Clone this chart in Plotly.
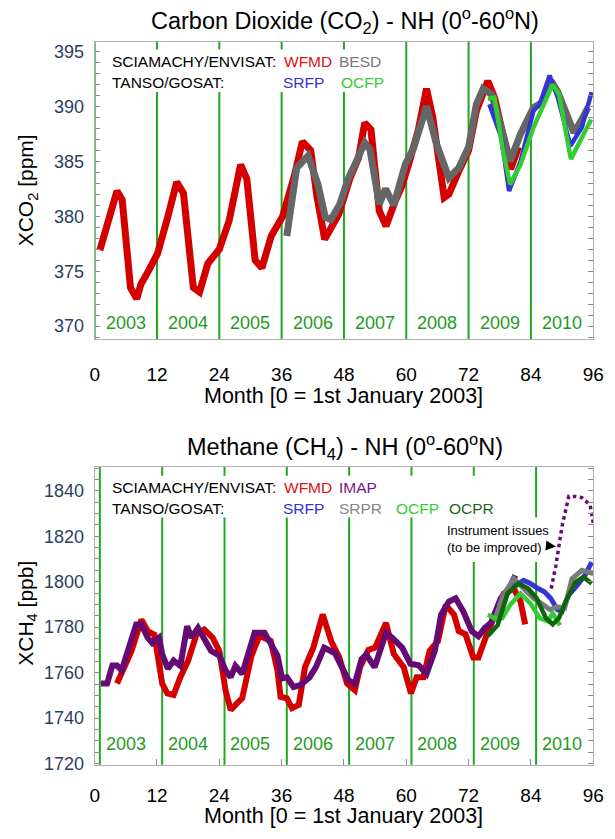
import plotly.graph_objects as go

# ---------------- data: CO2 (ppm) ----------------
co2_wfmd_month = [1.0, 4.3, 5.3, 6.9, 8.1, 8.9, 10.1, 12.1, 14.0, 15.8, 17.1, 19.0, 20.2, 21.8, 24.0, 25.9,
                  28.1, 29.3, 30.9, 32.2, 34.0, 36.2, 38.4, 40.0, 41.6, 42.8, 44.3, 47.0, 49.2, 50.8, 52.0,
                  53.2, 54.8, 56.1, 57.9, 59.2, 60.8, 62.3, 63.9, 65.1, 67.3, 68.2, 70.1, 72.0, 73.5, 75.7,
                  77.0, 78.8, 80.1, 81.6]
co2_wfmd = [376.9, 382.3, 381.5, 373.5, 372.5, 373.8, 374.8, 376.6, 379.8, 383.1, 382.1, 373.5, 373.1, 375.7,
            377.0, 379.6, 384.7, 383.4, 376.0, 375.3, 378.2, 380.0, 383.6, 386.8, 386.0, 381.8, 377.9, 380.2,
            383.5, 385.3, 388.5, 387.9, 380.5, 379.1, 381.4, 382.8, 385.3, 387.8, 391.6, 389.0, 381.7, 382.0,
            384.1, 386.0, 389.6, 392.3, 390.8, 386.6, 384.3, 386.3]

co2_besd_month = [37.0, 38.9, 41.1, 43.0, 44.4, 45.5, 47.2, 48.9, 50.4, 52.0, 53.0, 54.8, 56.0, 57.6, 59.8,
                  61.4, 63.9, 65.8, 68.2, 70.1, 72.0, 73.5, 74.8, 76.4, 78.3, 80.0, 82.0, 84.5, 86.0, 87.9,
                  89.1, 90.7, 92.3, 93.8, 95.0]
co2_besd = [378.2, 384.4, 385.5, 382.9, 379.9, 379.7, 381.1, 383.5, 385.0, 386.7, 386.1, 381.1, 382.5, 381.0,
            384.7, 386.2, 390.0, 386.6, 383.5, 384.4, 386.3, 390.2, 391.6, 391.1, 388.1, 385.0, 387.5, 389.9,
            390.3, 392.3, 391.4, 389.3, 387.6, 388.8, 389.9]

co2_srfp_month = [76.0, 78.3, 79.8, 82.0, 84.5, 85.7, 87.6, 89.2, 91.6, 93.8, 95.7]
co2_srfp = [390.2, 387.2, 382.3, 385.0, 389.6, 390.2, 392.8, 390.8, 386.4, 388.1, 391.3]

co2_ocfp_month = [75.7, 77.0, 78.6, 80.0, 82.0, 84.5, 88.2, 89.4, 91.7, 95.6]
co2_ocfp = [390.7, 390.8, 386.0, 382.9, 384.7, 388.1, 392.0, 391.1, 385.2, 388.8]

# ---------------- data: CH4 (ppb) ----------------
ch4_wfmd_month = [4.3, 5.5, 7.1, 9.0, 10.2, 11.5, 13.0, 14.0, 15.2, 16.5, 18.0, 19.6, 21.1, 22.7, 24.0, 25.2,
                  26.2, 27.4, 28.4, 30.2, 31.7, 33.9, 35.2, 35.8, 37.0, 38.0, 39.3, 40.5, 42.1, 43.9, 45.6,
                  47.1, 48.6, 50.1, 51.1, 52.7, 54.0, 56.1, 57.6, 59.5, 60.9, 62.0, 63.3, 64.5, 66.1, 67.6,
                  69.2, 70.1, 71.4, 72.9, 73.9, 75.4, 77.0, 78.8, 80.7, 82.0, 82.9]
ch4_wfmd = [1755.2, 1761.0, 1769.6, 1783.3, 1778.3, 1776.7, 1755.2, 1750.9, 1750.2, 1758.0, 1765.3, 1776.8,
            1779.0, 1775.4, 1769.6, 1752.3, 1743.6, 1746.5, 1748.7, 1767.5, 1776.1, 1774.0, 1761.0, 1749.4,
            1748.7, 1744.4, 1745.8, 1762.4, 1771.0, 1785.6, 1773.5, 1766.7, 1755.2, 1752.3, 1762.4, 1770.0,
            1771.0, 1781.9, 1768.2, 1762.4, 1750.9, 1758.0, 1758.0, 1769.6, 1773.9, 1789.8, 1785.5, 1778.3,
            1776.9, 1766.7, 1766.7, 1776.1, 1785.5, 1794.8, 1797.0, 1791.3, 1781.2]

ch4_imap_month = [1.2, 2.4, 3.4, 4.3, 5.2, 6.5, 8.0, 9.0, 10.2, 11.1, 12.4, 13.0, 14.1, 15.2, 16.5, 17.8,
                  18.6, 19.9, 21.1, 22.4, 24.0, 25.2, 26.2, 27.1, 28.4, 29.6, 30.8, 32.7, 33.9, 35.2, 36.1,
                  37.0, 38.3, 39.6, 41.4, 42.6, 44.2, 46.3, 47.6, 48.9, 50.1, 51.4, 52.3, 53.9, 56.1, 57.3,
                  59.2, 60.8, 62.4, 63.9, 65.5, 66.7, 68.2, 69.5, 71.0, 72.6, 73.9, 75.1, 76.3, 78.2, 79.8, 81.0]
ch4_imap = [1755.2, 1755.2, 1763.1, 1763.1, 1761.0, 1769.6, 1781.2, 1781.2, 1775.4, 1773.0, 1775.4, 1768.2,
            1761.7, 1765.3, 1763.0, 1780.4, 1775.4, 1779.7, 1775.4, 1769.6, 1767.5, 1761.0, 1758.0, 1763.0,
            1759.5, 1769.6, 1777.5, 1777.5, 1772.5, 1767.5, 1757.4, 1758.0, 1753.7, 1754.5, 1758.0, 1762.4,
            1771.0, 1768.5, 1762.4, 1756.6, 1755.2, 1766.0, 1767.9, 1762.4, 1777.5, 1775.4, 1771.0, 1763.9,
            1763.2, 1759.5, 1769.6, 1785.5, 1791.3, 1792.7, 1786.9, 1778.3, 1776.0, 1779.6, 1781.9, 1792.7,
            1797.0, 1802.8]

ch4_imap_issue_month = [87.9, 88.8, 90.0, 91.3, 92.6, 93.8, 95.4, 96.0]
ch4_imap_issue = [1797.0, 1807.0, 1824.5, 1837.6, 1837.5, 1837.0, 1833.8, 1825.9]

ch4_srfp_month = [79.0, 80.1, 82.6, 83.8, 85.4, 86.6, 87.8, 89.1, 90.0, 91.3, 92.9, 94.4, 95.7]
ch4_srfp = [1793.0, 1797.0, 1800.6, 1799.4, 1797.0, 1795.6, 1792.7, 1787.7, 1787.0, 1794.2, 1798.4, 1802.8, 1808.6]

ch4_srpr_month = [77.0, 78.5, 80.7, 82.6, 84.5, 86.4, 87.7, 88.9, 90.5, 91.9, 93.8, 96.0]
ch4_srpr = [1782.6, 1793.4, 1801.3, 1797.0, 1792.7, 1789.8, 1787.7, 1789.0, 1788.5, 1801.3, 1805.0, 1803.6]

ch4_ocfp_month = [75.7, 77.0, 78.5, 80.0, 82.0, 83.9, 85.7, 87.3, 88.2, 89.6]
ch4_ocfp = [1785.5, 1784.0, 1784.0, 1789.8, 1794.8, 1790.5, 1784.0, 1782.6, 1786.2, 1780.8]

ch4_ocpr_month = [75.7, 77.6, 79.5, 81.6, 83.5, 85.1, 86.9, 88.2, 89.4, 90.7, 92.6, 94.1, 95.7]
ch4_ocpr = [1776.1, 1780.9, 1794.8, 1799.2, 1797.0, 1792.7, 1784.0, 1781.2, 1784.0, 1791.3, 1799.9, 1802.1, 1799.2]

years = ["2003", "2004", "2005", "2006", "2007", "2008", "2009", "2010"]
month_ticks = [0, 12, 24, 36, 48, 60, 72, 84, 96]
co2_ticks = [370, 375, 380, 385, 390, 395]
ch4_ticks = [1720, 1740, 1760, 1780, 1800, 1820, 1840]

# ---------------- figure ----------------
W, H = 615, 839
FONT = "Liberation Sans, Arial, Helvetica, sans-serif"
RED = "#d40000"
BESD_GRAY = "#666666"
BLUE = "#3333d6"
LGREEN = "#33cc33"
PURPLE = "#650a72"
SRPR_GRAY = "#7a7a7a"
DGREEN = "#0b650b"
YEARLINE = "#1fa81f"
YEARTEXT = "#1f9a1f"
FRAME = "#b0b0b0"

def px_x(p):
    return p / W

def px_y(p):
    return 1 - p / H

xdom = [px_x(92), px_x(604)]
top_dom = [px_y(343), px_y(42)]
bot_dom = [px_y(773), px_y(472)]

fig = go.Figure()

def line(x, y, color, width, xa, ya, dash=None):
    fig.add_trace(go.Scatter(x=x, y=y, mode="lines", xaxis=xa, yaxis=ya, showlegend=False,
                             line=dict(color=color, width=width, dash=dash), hoverinfo="skip"))

# CO2 traces
line(co2_wfmd_month, co2_wfmd, RED, 7, "x", "y")
line(co2_besd_month, co2_besd, BESD_GRAY, 7, "x", "y")
line(co2_srfp_month, co2_srfp, BLUE, 4.5, "x", "y")
line(co2_ocfp_month, co2_ocfp, LGREEN, 4.5, "x", "y")

# CH4 traces
line(ch4_wfmd_month, ch4_wfmd, RED, 6, "x2", "y2")
line(ch4_imap_month, ch4_imap, PURPLE, 6, "x2", "y2")
line(ch4_imap_issue_month, ch4_imap_issue, PURPLE, 3.5, "x2", "y2", dash="dot")
line(ch4_srfp_month, ch4_srfp, BLUE, 5, "x2", "y2")
line(ch4_srpr_month, ch4_srpr, SRPR_GRAY, 5, "x2", "y2")
line(ch4_ocfp_month, ch4_ocfp, LGREEN, 4.5, "x2", "y2")
line(ch4_ocpr_month, ch4_ocpr, DGREEN, 4.5, "x2", "y2")

shapes = []
# year separator lines
for k in range(8):
    shapes.append(dict(type="line", xref="x", yref="y domain", x0=12 * k, x1=12 * k, y0=0, y1=1,
                       line=dict(color=YEARLINE, width=2), layer="below"))
    shapes.append(dict(type="line", xref="x2", yref="y2 domain", x0=12 * k + 1, x1=12 * k + 1, y0=0, y1=1,
                       line=dict(color=YEARLINE, width=2), layer="below"))
# white boxes behind legend texts / note
shapes.append(dict(type="rect", xref="x", yref="y domain", x0=1.2, x1=58.8,
                   y0=(343 - 93) / 301, y1=(343 - 50) / 301, fillcolor="white", line=dict(width=0), layer="below"))
shapes.append(dict(type="rect", xref="x2", yref="y2 domain", x0=1.8, x1=80.0,
                   y0=(773 - 523) / 301, y1=(773 - 481) / 301, fillcolor="white", line=dict(width=0), layer="below"))
shapes.append(dict(type="rect", xref="x2", yref="y2 domain", x0=67.9, x1=87.6,
                   y0=(773 - 568) / 301, y1=(773 - 523) / 301, fillcolor="white", line=dict(width=0), layer="below"))

ann = []
def text(x, y, s, size, color="black", xanchor="left", xref="paper", yref="paper", angle=0, yanchor="middle"):
    ann.append(dict(x=x, y=y, xref=xref, yref=yref, text=s, showarrow=False, xanchor=xanchor,
                    yanchor=yanchor, textangle=angle, font=dict(family=FONT, size=size, color=color)))

# titles
text(px_x(349), px_y(21), "Carbon Dioxide (CO<sub>2</sub>) - NH (0<sup>o</sup>-60<sup>o</sup>N)", 23.5, xanchor="center")
text(px_x(349), px_y(451), "Methane (CH<sub>4</sub>) - NH (0<sup>o</sup>-60<sup>o</sup>N)", 23.5, xanchor="center")
# axis titles
text(px_x(348), px_y(400), "Month [0 = 1st January 2003]", 21.5, xanchor="center")
text(px_x(348), 0.0, "Month [0 = 1st January 2003]", 21.5, xanchor="center", yanchor="bottom")
text(px_x(23), px_y(192), "XCO<sub>2</sub> [ppm]", 21, xanchor="center", angle=-90)
text(px_x(23), px_y(620), "XCH<sub>4</sub> [ppb]", 21, xanchor="center", angle=-90)

# legend-like labels (top)
LG = 15.5
text(px_x(108), px_y(62), "SCIAMACHY/ENVISAT:", LG)
text(px_x(284), px_y(62), "WFMD", LG, "#dd1111")
text(px_x(341), px_y(62), "BESD", LG, "#777777")
text(px_x(108), px_y(83), "TANSO/GOSAT:", LG)
text(px_x(283), px_y(83), "SRFP", LG, "#3434d0")
text(px_x(343), px_y(83), "OCFP", LG, "#33cc33")
# legend-like labels (bottom)
text(px_x(108), px_y(493), "SCIAMACHY/ENVISAT:", LG)
text(px_x(284), px_y(493), "WFMD", LG, "#dd1111")
text(px_x(341), px_y(493), "IMAP", LG, "#75187f")
text(px_x(108), px_y(514), "TANSO/GOSAT:", LG)
text(px_x(283), px_y(514), "SRFP", LG, "#3434d0")
text(px_x(341), px_y(514), "SRPR", LG, "#888888")
text(px_x(399), px_y(514), "OCFP", LG, "#33cc33")
text(px_x(454), px_y(514), "OCPR", LG, "#1b6a1b")

# year labels
for k, yr in enumerate(years):
    text(6 + 12 * k, px_y(327), yr, 18, YEARTEXT, xanchor="center", xref="x")
    text(6 + 12 * k, px_y(752), yr, 18, YEARTEXT, xanchor="center", xref="x2")

# instrument note
ann.append(dict(x=px_x(506), y=px_y(545), xref="paper", yref="paper", showarrow=False,
                text="Instrument issues<br>(to be improved)", xanchor="center", yanchor="middle",
                align="left", font=dict(family=FONT, size=13, color="black")))
ann.append(dict(x=88.8, y=1815.5, xref="x2", yref="y2", ax=-11, ay=-1, showarrow=True, text="",
                arrowhead=2, arrowsize=0.8, arrowwidth=2.5, arrowcolor="black"))

axis_font = dict(family=FONT, size=19, color="black")
common_y = dict(showline=True, linecolor=FRAME, linewidth=1, mirror="ticks", ticks="inside", ticklen=5,
                tickcolor="#8c8c8c", showgrid=False, zeroline=False, tickfont=dict(family=FONT, size=18),
                ticklabelstandoff=6)

fig.update_layout(
    width=W, height=H, margin=dict(l=0, r=0, t=0, b=0),
    paper_bgcolor="white", plot_bgcolor="white",
    xaxis=dict(domain=xdom, anchor="y", range=[-0.01, 96.01], tickvals=month_ticks, showline=True, linecolor=FRAME,
               mirror=True, ticks="", showgrid=False, zeroline=False, tickfont=axis_font, ticklabelstandoff=18,
               ticklabeloverflow="allow"),
    yaxis=dict(domain=top_dom, anchor="x", range=[368.8, 395.9], tickvals=co2_ticks,
               minor=dict(dtick=1, ticks="inside", ticklen=5, tickcolor="#8c8c8c"), **common_y),
    xaxis2=dict(domain=xdom, anchor="y2", range=[-0.01, 96.01], tickvals=month_ticks, showline=True, linecolor=FRAME,
                mirror=True, ticks="inside", ticklen=6, tickcolor="#8c8c8c", showgrid=False, zeroline=False,
                tickfont=axis_font, ticklabelstandoff=13, ticklabeloverflow="allow"),
    yaxis2=dict(domain=bot_dom, anchor="x2", range=[1719.5, 1850.5], tickvals=ch4_ticks,
                minor=dict(dtick=5, ticks="inside", ticklen=5, tickcolor="#8c8c8c"), **common_y),
    shapes=shapes, annotations=ann,
)

fig.write_html("out.html")
